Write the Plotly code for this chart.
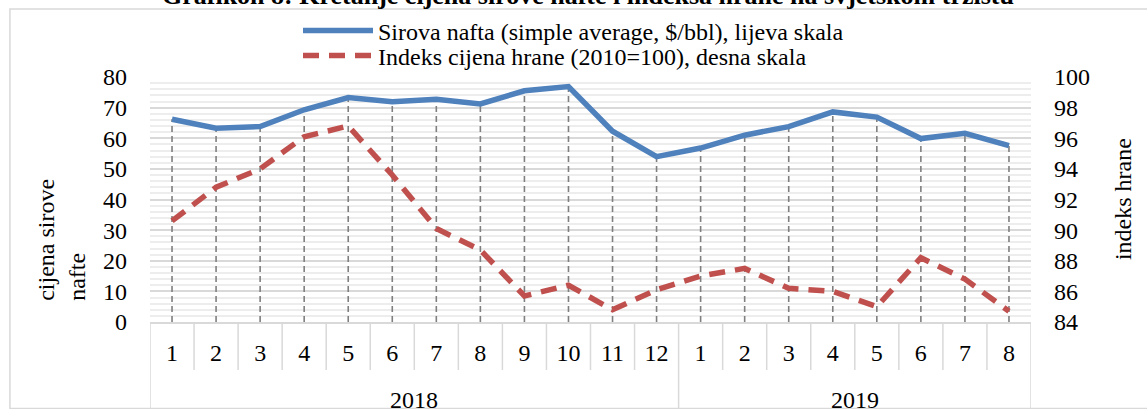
import plotly.graph_objects as go

# mjesečni podaci 2018-2019
months = ['1', '2', '3', '4', '5', '6', '7', '8', '9', '10', '11', '12',
          '1', '2', '3', '4', '5', '6', '7', '8']
years = ['2018', '2019']
months_per_year = [12, 8]

nafta = [66.2, 63.3, 63.8, 69.3, 73.3, 71.9, 72.7, 71.2, 75.5, 76.9, 62.3, 54.0,
         56.8, 61.0, 63.8, 68.6, 66.9, 59.9, 61.6, 57.6]
hrana = [90.6, 92.8, 94.0, 96.1, 96.8, 93.6, 90.1, 88.7, 85.7, 86.4, 84.8, 86.1,
         87.0, 87.5, 86.2, 86.0, 85.0, 88.2, 86.8, 84.7]

FONT = 'Liberation Serif, Times New Roman, serif'
x = list(range(len(months)))

# drop lines od točke do osi
drop_x, drop_y = [], []
for i, v in zip(x, nafta):
    drop_x += [i, i, None]
    drop_y += [0, v, None]

fig = go.Figure()
fig.add_trace(go.Scatter(x=drop_x, y=drop_y, mode='lines', showlegend=False,
                         line=dict(color='#7f7f7f', width=1.6, dash='6px,4px'),
                         hoverinfo='skip'))
fig.add_trace(go.Scatter(x=x, y=nafta, mode='lines', legend='legend',
                         name='Sirova nafta (simple average, $/bbl), lijeva skala',
                         line=dict(color='#4F81BD', width=5.5)))
fig.add_trace(go.Scatter(x=x, y=hrana, mode='lines', yaxis='y2', legend='legend2',
                         name='Indeks cijena hrane (2010=100), desna skala',
                         line=dict(color='#C0504D', width=5.5, dash='16px,10px')))

# okviri kategorija na x osi
shapes = []
boundaries = [-0.5]
for n in months_per_year:
    boundaries.append(boundaries[-1] + n)
for i in range(len(months) + 1):
    xv = i - 0.5
    full = xv in boundaries
    shapes.append(dict(type='line', xref='x', yref='paper', x0=xv, x1=xv,
                       y0=0, y1=-0.351 if full else -0.196,
                       line=dict(color='#d9d9d9', width=1.5)))
# okvir grafikona
shapes.append(dict(type='rect', xref='paper', yref='paper',
                   x0=-0.159, x1=1.2, y0=-0.353, y1=1.278,
                   line=dict(color='#d9d9d9', width=1.5)))

annotations = []
for k, yr in enumerate(years):
    annotations.append(dict(x=(boundaries[k] + boundaries[k + 1]) / 2, y=-0.318,
                            xref='x', yref='paper', text=yr, showarrow=False,
                            font=dict(size=24, family=FONT, color='black'),
                            yanchor='middle'))
annotations += [
    dict(x=-0.1, y=0.335, xref='paper', yref='paper', xanchor='center', yanchor='middle',
         text='cijena sirove<br>nafte', textangle=-90, showarrow=False, align='left',
         font=dict(size=24, family=FONT, color='black')),
    dict(x=1.104, y=0.5, xref='paper', yref='paper', xanchor='center', yanchor='middle',
         text='indeks hrane', textangle=-90, showarrow=False,
         font=dict(size=24, family=FONT, color='black')),
    dict(x=0.497, y=1.332, xref='paper', yref='paper', xanchor='center',
         text='<b>Grafikon 8: Kretanje cijena sirove nafte i indeksa hrane na svjetskom tržištu</b>',
         showarrow=False, yanchor='middle',
         font=dict(size=26, family=FONT, color='black')),
]

legend_style = dict(xanchor='left', yanchor='middle', bgcolor='rgba(0,0,0,0)',
                    font=dict(size=24, family=FONT, color='black'), itemwidth=70)

fig.update_layout(
    width=1147, height=409,
    margin=dict(l=150, r=116, t=77, b=87, autoexpand=False),
    paper_bgcolor='white', plot_bgcolor='white',
    font=dict(family=FONT, size=24, color='black'),
    showlegend=True,
    legend=dict(x=0.168, y=1.188, **legend_style),
    legend2=dict(x=0.168, y=1.086, **legend_style),
    xaxis=dict(range=[-0.5, len(months) - 0.5], tickvals=x, ticktext=months,
               showgrid=False, zeroline=False, showline=True, linecolor='#d9d9d9',
               linewidth=1.5, ticks='', ticklabelstandoff=8,
               tickfont=dict(size=24, family=FONT)),
    yaxis=dict(range=[0, 80], dtick=10, showgrid=True, gridcolor='#d9d9d9', gridwidth=1.5,
               minor=dict(dtick=2, showgrid=True, gridcolor='#ededed', gridwidth=1.5),
               zeroline=False, ticks='', ticklabelstandoff=22,
               tickfont=dict(size=24, family=FONT)),
    yaxis2=dict(range=[84, 100], dtick=2, overlaying='y', side='right', showgrid=False,
                zeroline=False, ticks='', ticklabelstandoff=22,
                tickfont=dict(size=24, family=FONT)),
    shapes=shapes,
    annotations=annotations,
)

fig.write_html("out.html", config={'displayModeBar': False},
               post_script="document.body.style.margin='0px';")
